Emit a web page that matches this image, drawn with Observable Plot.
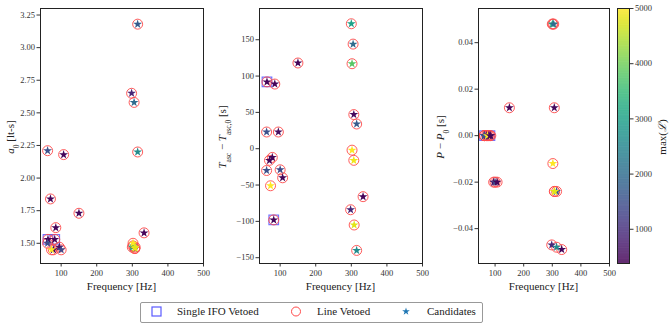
<!DOCTYPE html>
<html><head><meta charset="utf-8">
<script src="https://cdn.jsdelivr.net/npm/d3@7"></script>
<script src="https://cdn.jsdelivr.net/npm/@observablehq/plot@0.6"></script>
<style>
body{margin:0;background:#fff;}
#wrap{position:relative;width:672px;height:325px;font-family:"Liberation Serif",serif;overflow:hidden;}
#wrap svg{position:absolute;overflow:visible;}
.lg{position:absolute;font-size:11px;color:#222;white-space:nowrap;line-height:12px;}
</style></head><body><div id="wrap"></div>
<script>
// ---- data (one entry per candidate) ----
const freq      = [302, 300, 305, 150, 63, 85, 307, 315, 62, 95, 302, 307, 78, 70, 62, 100, 107, 73, 333, 298, 82, 308, 315];
const a0        = [1.48, 1.47, 2.58, 1.73, 1.53, 1.62, 1.46, 3.18, 2.21, 1.47, 1.50, 1.46, 1.45, 1.84, 1.50, 1.45, 2.18, 1.45, 1.58, 2.65, 1.53, 1.47, 2.20];
const dTasc     = [117, 172, 144, 118, 92, 89, 47, 34, 23, 23, -2, -16, -12, -16, -30, -29, -40, -51, -66, -84, -98, -105, -140];
const dP        = [0.048, 0.048, 0.048, 0.012, 0.0, 0.0, 0.012, -0.024, 0.0, -0.020, -0.012, -0.024, 0.0, 0.0, 0.0, -0.020, -0.020, 0.0, -0.049, -0.047, 0.0, -0.024, -0.048];
const maxL      = [3800, 3000, 2000, 450, 450, 450, 500, 1700, 1500, 550, 5000, 4900, 450, 450, 1500, 1400, 450, 5000, 450, 900, 450, 4800, 2600];
const singleIFO = [false,false,false,false,true,false,false,false,false,false,false,false,false,false,false,false,false,false,false,false,true,false,false];
const lineVeto  = [true,true,true,true,true,true,true,true,true,true,true,true,true,true,true,true,true,true,true,true,true,true,true];

const xTicks = [100, 200, 300, 400, 500];
const a0Ticks = [1.50, 1.75, 2.00, 2.25, 2.50, 2.75, 3.00, 3.25];
const dTTicks = [-150, -100, -50, 0, 50, 100, 150];
const dPTicks = [-0.04, -0.02, 0.00, 0.02, 0.04];
const cbTicks = [1000, 2000, 3000, 4000, 5000];
const cDomain = [380, 5000];

const wrap = document.getElementById("wrap");
const font = "'Liberation Serif', serif";

function panel(yVals, yDomain, yTicks, yFmt, left, width, ml, mr) {
  const data = freq.map((f, i) => ({f, y: yVals[i], L: maxL[i], s: singleIFO[i], lv: lineVeto[i]}));
  const p = Plot.plot({
    width, height: 300, marginLeft: ml, marginRight: mr, marginTop: 8, marginBottom: 37,
    style: {fontFamily: font, fontSize: "8.5px", color: "#333", background: "none"},
    x: {domain: [42, 500], ticks: xTicks, tickSize: 3.5, tickPadding: 3, label: null},
    y: {domain: yDomain, ticks: yTicks, tickFormat: yFmt, tickSize: 3.5, tickPadding: 2, label: null},
    color: {type: "linear", scheme: "viridis", domain: cDomain},
    marks: [
      Plot.dot(data.filter(d => d.s), {x: "f", y: "y", symbol: "square", r: 5.4, stroke: "#5a5aff", strokeWidth: 1.2, strokeOpacity: 0.85}),
      Plot.dot(data.filter(d => d.lv), {x: "f", y: "y", r: 5, stroke: "#ff4a4a", strokeWidth: 1, strokeOpacity: 0.9}),
      Plot.dot(data, {x: "f", y: "y", symbol: "star", r: 2.8, fill: "L"}),
      Plot.frame({stroke: "#222"})
    ]
  });
  p.style.left = left + "px"; p.style.top = "0px";
  wrap.append(p);
}

panel(a0, [1.345, 3.30], a0Ticks, d3.format(".2f"), 0, 210, 40, 7);
panel(dTasc, [-158, 193], dTTicks, d3.format("d"), 215, 212, 44, 5);
panel(dP, [-0.055, 0.0547], dPTicks, d3.format(".2f"), 430, 185, 48, 6);

// colorbar
const stops = d3.range(cDomain[0], cDomain[1], 10);
const cb = Plot.plot({
  width: 72, height: 300, marginLeft: 17, marginRight: 43, marginTop: 8, marginBottom: 37,
  style: {fontFamily: font, fontSize: "8.5px", color: "#333", background: "none"},
  x: {domain: [0, 1], axis: null},
  y: {domain: cDomain, axis: "right", ticks: cbTicks, tickFormat: d => String(d), tickSize: 3.5, tickPadding: 2, label: null},
  color: {type: "linear", scheme: "viridis", domain: cDomain},
  marks: [
    Plot.rect(stops, {x1: 0, x2: 1, y1: d => d, y2: d => Math.min(d + 12, cDomain[1]), fill: d => d + 5}),
    Plot.frame({stroke: "#222"})
  ]
});
cb.style.left = "600px"; cb.style.top = "0px";
wrap.append(cb);

// overlay labels
const ov = d3.select(wrap).append("svg").attr("width", 672).attr("height", 325)
  .style("left", "0px").style("top", "0px").style("pointer-events", "none")
  .attr("font-family", font).attr("fill", "#222");

[121.5, 340.5, 543.5].forEach(cx => {
  ov.append("text").attr("x", cx).attr("y", 290).attr("text-anchor", "middle").attr("font-size", 11).text("Frequency [Hz]");
});

function ylab(x, y, parts) {
  const t = ov.append("text").attr("transform", `translate(${x},${y}) rotate(-90)`).attr("text-anchor", "middle").attr("font-size", 11);
  parts.forEach(([s, style]) => {
    const ts = t.append("tspan").text(s);
    if (style === "i") ts.attr("font-style", "italic");
    if (style === "sub") { ts.attr("font-size", 7.5).attr("baseline-shift", "sub"); }
  });
}
ylab(14, 137, [["a", "i"], ["0", "sub"], [" [lt-s]", ""]]);
ylab(226, 137, [["T", "i"], ["asc", "sub"], [" − ", ""], ["T", "i"], ["asc,0", "sub"], [" [s]", ""]]);
ylab(444, 137, [["P", "i"], [" − ", ""], ["P", "i"], ["0", "sub"], [" [s]", ""]]);
ylab(666, 137, [["max(", ""], ["ℒ", "i"], [")", ""]]);

// legend
const lg = d3.select(wrap);
lg.append("div").style("position", "absolute").style("left", "140px").style("top", "302px")
  .style("width", "341px").style("height", "19px").style("border", "1px solid #999").style("border-radius", "2px");
const lsv = d3.select(wrap).append("svg").attr("width", 672).attr("height", 325).style("left", "0px").style("top", "0px");
lsv.append("rect").attr("x", 152).attr("y", 307).attr("width", 9).attr("height", 9).attr("fill", "none").attr("stroke", "#5a5aff").attr("stroke-width", 1.2);
lsv.append("circle").attr("cx", 296).attr("cy", 311.5).attr("r", 4.5).attr("fill", "none").attr("stroke", "#ff4a4a").attr("stroke-width", 1);
lsv.append("path").attr("d", d3.symbol(d3.symbolStar, 18)()).attr("transform", "translate(406,311.5)").attr("fill", "#1f77b4");
[["Single IFO Vetoed", 177], ["Line Vetoed", 317], ["Candidates", 427]].forEach(([t, x]) => {
  lg.append("div").attr("class", "lg").style("left", x + "px").style("top", "305px").text(t);
});
</script>
</body></html>
